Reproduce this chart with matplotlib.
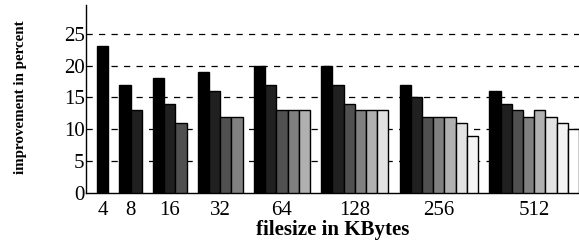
import matplotlib
matplotlib.use("Agg")
import matplotlib.pyplot as plt

plt.rcParams['font.family'] = ['Liberation Serif', 'DejaVu Serif']

sizes = ['4', '8', '16', '32', '64', '128', '256', '512']
values = [
    [23],
    [17, 13],
    [18, 14, 11],
    [19, 16, 12, 12],
    [20, 17, 13, 13, 13],
    [20, 17, 14, 13, 13, 13],
    [17, 15, 12, 12, 12, 11, 9],
    [16, 14, 13, 12, 13, 12, 11, 10],
]
shades = ['#000000', '#202020', '#505050', '#808080',
          '#b0b0b0', '#e2e2e2', '#f4f4f4', '#ffffff']

fig = plt.figure(figsize=(5.79, 2.43), dpi=100)
ax = fig.add_axes([0.1485, 0.206, 0.8515, 0.773])

centers = []
start = 0
for group in values:
    for i, v in enumerate(group):
        ax.bar(start + i, v, width=1, align='edge', color=shades[i],
               edgecolor='black', linewidth=1, zorder=3)
    centers.append(start + len(group) / 2)
    start += len(group) + 1

for y in [5, 10, 15, 20, 25]:
    ax.axhline(y, color='black', linestyle=(0, (5, 5)), linewidth=0.9, zorder=1)

ax.set_xlim(-0.98, 43.0)
ax.set_ylim(0, 29.5)
ax.set_yticks([0, 5, 10, 15, 20, 25])
ax.set_xticks(centers)
ax.set_xticklabels(sizes)
ax.tick_params(axis='x', length=0, labelsize=15, pad=6)
ax.tick_params(axis='y', direction='in', length=0, labelsize=15, pad=1)
for s in ['top', 'right']:
    ax.spines[s].set_visible(False)
ax.spines['left'].set_linewidth(1)
ax.spines['bottom'].set_linewidth(1)

ax.set_xlabel('filesize in KBytes', fontsize=15, fontweight='bold', labelpad=0)
fig.text(0.035, 0.6, 'improvement in percent', rotation=90, fontsize=10.8,
         fontweight='bold', ha='center', va='center')

fig.savefig('out.png', dpi=100)
